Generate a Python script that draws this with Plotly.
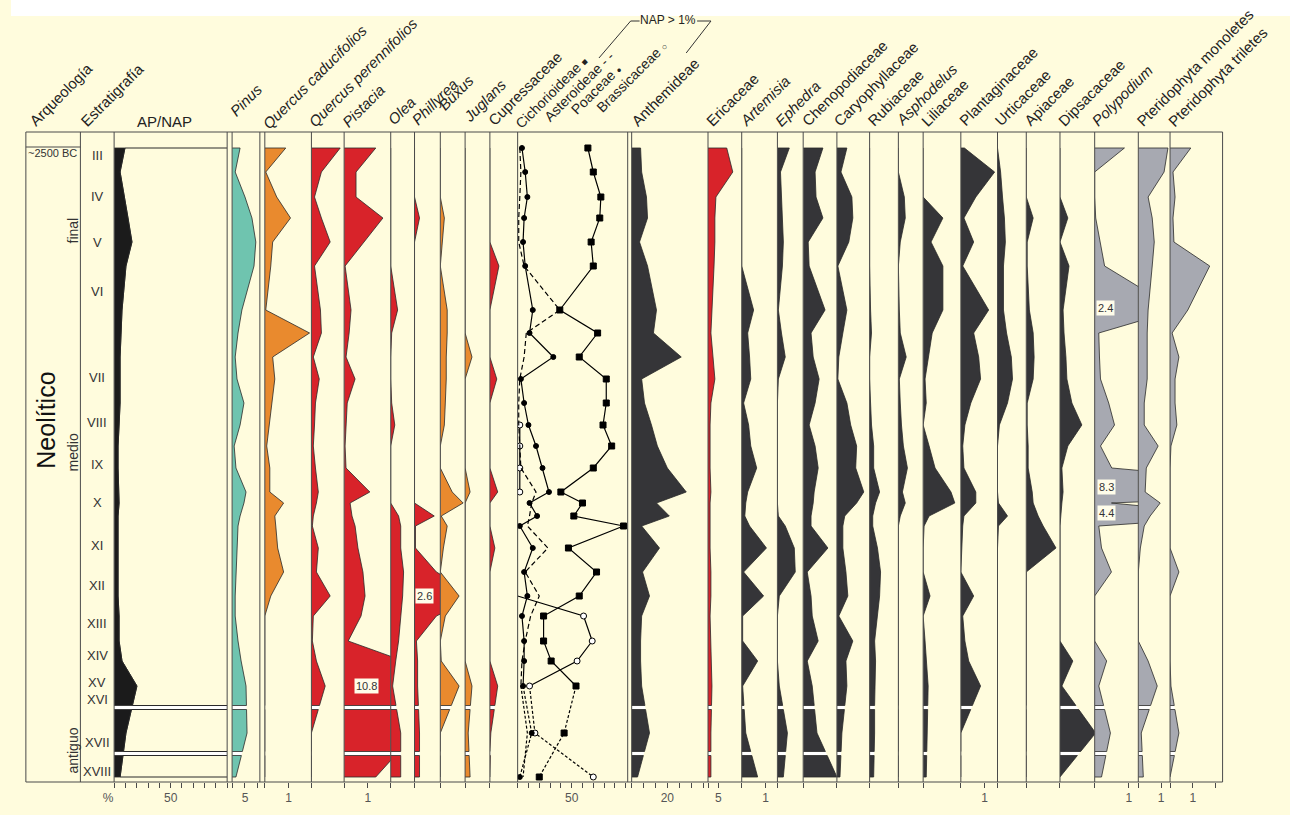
import plotly.graph_objects as go

W, H = 1290, 815
Y_TOP, Y_BOT = 132, 782          # header rule and bottom axis (pixel rows == depth units)

# ---------------- data (sample depths and values) ----------------
depth = [148, 172, 197, 218, 242, 266, 310, 333, 357, 379, 403, 425, 446, 468, 492,
         503, 516, 526, 548, 572, 596, 616, 641, 661, 686, 733, 777]

ap = [9.6, 5.3, 8.8, 12.3, 15.8, 10.5, 7.0, 6.1, 5.3, 5.3, 5.3, 4.4, 3.5, 3.5, 4.4,
      4.4, 3.5, 3.5, 3.5, 3.5, 3.5, 4.4, 4.4, 7.0, 20.2, 10.5, 5.3]
pinus = [3.1, 1.2, 5.0, 7.7, 9.2, 8.5, 3.8, 2.3, 1.2, 1.9, 4.6, 3.1, 0.8, 1.5, 5.4,
         4.6, 3.1, 2.3, 1.9, 1.5, 1.2, 1.2, 2.3, 3.5, 5.4, 5.8, 1.5]
q_caducifolios = [0.88, 0.04, 0.5, 1.08, 0.33, 0.25, 0.04, 1.88, 0.33, 0.42, 0.29, 0.17, 0.08, 0.21, 0.21,
                  0.79, 0.42, 0.46, 0.54, 0.79, 0.25, 0, 0, 0, 0, 0, 0]
q_perennifolios = [1.21, 0.42, 0.13, 0.42, 0.79, 0.13, 0.38, 0.42, 0.08, 0.33, 0.17, 0.13, 0.08, 0.17, 0.29,
                   0.21, 0.08, 0.04, 0.29, 0.21, 0.79, 0.08, 0.04, 0.21, 0.58, 0, 0]
pistacia = [1.33, 0.5, 0.5, 1.63, 0.83, 0.04, 0.29, 0.21, 0.08, 0.46, 0.13, 0.08, 0.04, 0.08, 1.08,
            0.25, 0.33, 0.46, 0.58, 0.79, 0.88, 0.71, 0.17, 2.5, 10.8, 3.0, 1.33]
olea = [0, 0, 0, 0, 0, 0, 0.29, 0.04, 0, 0, 0.04, 0.17, 0, 0, 0,
        0, 0.33, 0.42, 0.42, 0.54, 0.5, 0.42, 0.33, 0.21, 0.08, 0.42, 0.42]
phillyrea = [0, 0, 0, 0.21, 0, 0, 0, 0, 0, 0, 0, 0, 0, 0, 0,
             0, 0.83, 0.04, 0.04, 0.92, 2.6, 0.92, 0.08, 0.13, 0.13, 0.21, 0.21]
buxus = [0, 0, 0, 0.17, 0.08, 0, 0.29, 0.29, 0.25, 0.25, 0.21, 0.17, 0, 0, 0.5,
         0.96, 0.04, 0.29, 0.13, 0, 0.79, 0.21, 0, 0.04, 0.79, 0, 0]
juglans = [0, 0, 0, 0, 0, 0, 0, 0, 0.29, 0, 0, 0, 0, 0, 0.21,
           0, 0, 0, 0, 0, 0, 0, 0, 0, 0.29, 0.13, 0.21]
cupressaceae = [0, 0, 0, 0, 0, 0.38, 0, 0, 0, 0.29, 0, 0, 0, 0, 0.33,
                0, 0, 0, 0.21, 0, 0, 0, 0, 0, 0.33, 0.04, 0]

cichorioideae = [65, 70, 77, 76, 68, 70, 39, 74, 57, 82, 82, 79, 87, 70, 40,
                 60, 52, 98, 47, 73, 57, 24, 24, 31, 54, 43, 20]
asteroideae = [2, 3, 2, 1, 1, 6, 39, 8, 6, 2, 1, 1, 2, 3, 17,
               13, 11, 9, 28, 7, 20, 12, 7, 4, 3, 9, 5]
poaceae = [4, 7, 9, 6, 5, 7, 14, 11, 33, 3, 6, 10, 17, 23, 29,
           11, 18, 2, 14, 6, 9, 4, 6, 6, 5, 13, 2]
brassicaceae = [None, None, None, None, None, None, None, None, None, None, None, 2, 2, 2, 2,
                None, None, None, None, None, 0, 61, 69, 55, 11, 16, 70]

anthemideae = [5, 5.6, 8.3, 8.9, 4.4, 8.9, 13.9, 12.2, 27.8, 5.6, 7.2, 11.1, 14.4, 20, 30.6,
               13.9, 21.1, 5.6, 15.6, 6.1, 10, 5.6, 5, 5, 5.6, 10, 3.3]
ericaceae = [9, 11.9, 3.8, 3.3, 3.3, 2.9, 1.9, 1.4, 2.4, 3.3, 1.4, 1, 1, 1, 1.4,
             1, 1, 1, 1, 1.4, 1.4, 1, 1.4, 1.4, 1.9, 1.4, 1.4]
artemisia = [0, 0, 0, 0, 0, 0, 0.5, 0.25, 0.33, 0.38, 0.08, 0.29, 0.38, 0.63, 0.25,
             0.17, 0.13, 0.33, 1.04, 0.08, 0.92, 0.04, 0.04, 0.67, 0.04, 0.17, 0.67]
ephedra = [0.5, 0.13, 0.17, 0.21, 0.25, 0.21, 0.04, 0.17, 0.33, 0.04, 0, 0, 0, 0, 0,
           0, 0.04, 0.33, 0.71, 0.75, 0.08, 0, 0, 0, 0.08, 0.42, 0.25]
chenopodiaceae = [0.83, 0.5, 0.54, 0.83, 0.21, 0.25, 0.92, 0.33, 0.42, 0.67, 0.5, 0.25, 0.5, 0.63, 0.46,
                  0.42, 0.33, 0.33, 1.04, 0.17, 0.33, 0.38, 0.63, 0.17, 0.38, 0.58, 1.42]
caryophyllaceae = [0.42, 0.17, 0.63, 0.67, 0.5, 0.04, 0.42, 0.25, 0.08, 0.04, 0.42, 0.58, 0.83, 0.79, 1.13,
                   0.83, 0.33, 0.25, 0.25, 0.38, 0.46, 0.08, 0.67, 0.38, 0.42, 0.21, 0.13]
rubiaceae = [0, 0, 0, 0, 0, 0, 0.04, 0.08, 0, 0, 0.04, 0.08, 0.17, 0.17, 0.42,
             0.25, 0.13, 0.13, 0.33, 0.46, 0.42, 0.33, 0.21, 0.25, 0.21, 0.21, 0.17]
asphodelus = [0, 0, 0.25, 0.29, 0.08, 0, 0.04, 0.08, 0.33, 0.04, 0.08, 0.13, 0.21, 0.38, 0.17,
              0.29, 0.08, 0, 0, 0, 0, 0, 0, 0, 0, 0, 0]
liliaceae = [0, 0, 0, 0.83, 0.33, 0.83, 0.83, 0.38, 0.21, 0.08, 0.13, 0, 0.25, 0.5, 1.17,
             1.33, 0.25, 0.04, 0, 0, 0.29, 0, 0.08, 0.13, 0.21, 0.17, 0.13]
plantaginaceae = [0.15, 1.42, 0.63, 0.13, 0.54, 0.08, 1.17, 0.54, 0.75, 0.83, 0.42, 0.17, 0.08, 0.13, 0.63,
                  0.63, 0.13, 0.08, 0.04, 0, 0.54, 0.08, 0.17, 0.33, 0.83, 0, 0]
urticaceae = [0, 0.13, 0.21, 0.29, 0.33, 0.25, 0.25, 0.38, 0.58, 0.63, 0.42, 0.08, 0, 0, 0,
              0.04, 0.42, 0.04, 0, 0, 0, 0, 0, 0, 0, 0, 0]
apiaceae = [0, 0, 0, 0.29, 0.04, 0.04, 0.13, 0.29, 0.33, 0.29, 0.04, 0.04, 0.08, 0.08, 0.25,
            0.29, 0.5, 0.71, 1.25, 0, 0, 0, 0, 0, 0, 0, 0]
dipsacaceae = [0, 0, 0, 0.33, 0, 0.38, 0.13, 0.17, 0.25, 0.29, 0.5, 0.92, 0.33, 0.08, 0.13,
               0.08, 0.04, 0, 0, 0, 0, 0, 0, 0.54, 0.08, 1.5, 0]
polypodium = [0.87, 0, 0, 0.03, 0.17, 0.29, 2.4, 0.12, 0.14, 0.17, 0.41, 0.58, 0.17, 0.5, 8.3,
              0.49, 4.4, 0.12, 0.2, 0.49, 0, 0, 0, 0.35, 0.12, 0.46, 0.2]
pteridophyta_monoletes = [1.3, 1.13, 0.43, 0.61, 0.7, 0.61, 0.43, 0.39, 0.39, 0.39, 0.26, 0.26, 0.87, 0.35, 0.3,
                          0.96, 0.52, 0.26, 0.09, 0, 0, 0, 0, 0.43, 0.83, 0.13, 0.22]
pteridophyta_triletes = [0.91, 0.13, 0.22, 0.13, 0.17, 1.74, 0.78, 0.09, 0.39, 0.22, 0.22, 0.3, 0.04, 0, 0,
                         0, 0, 0, 0, 0.39, 0, 0, 0, 0, 0.04, 0.39, 0]

zone_labels = ["III", "IV", "V", "VI", "VII", "VIII", "IX", "X", "XI", "XII", "XIII",
               "XIV", "XV", "XVI", "XVII", "XVIII"]
zone_depths = [155, 196, 242, 291, 377, 422, 464, 502, 545, 585, 623, 655, 682, 699, 742, 771]
gap_depths = [(705.5, 709.5), (751.5, 755.5)]

# ---------------- styling ----------------
BG = "#FFFCDD"
TEAL = "#6FC4AF"
ORANGE = "#E98A2E"
RED = "#D8232A"
DARK = "#353538"
GREY = "#A7A9B1"
BLACK = "#1B1B1B"
OUT = "#2A2A2A"
RULE = "#4A4A4A"
FONT = "Liberation Sans, Arial, sans-serif"

# column: name, values, left px, right px, px per unit, colour, ticks {value: text}
columns = [
    ("AP", ap, 104, 218, 1.14, BLACK, {v: ("%\u2002\u2002" if v == 0 else "50" if v == 50 else "") for v in range(0, 101, 10)}),
    ("Pinus", pinus, 223, 251, 2.6, TEAL, {0: "", 5: "5", 10: ""}),
    ("Qcad", q_caducifolios, 256, 303, 24, ORANGE, {0: "", 1: "1"}),
    ("Qper", q_perennifolios, 303, 336, 24, RED, {0: ""}),
    ("Pistacia", pistacia, 336, 383, 24, RED, {0: "", 1: "1"}),
    ("Olea", olea, 383, 407, 24, RED, {0: ""}),
    ("Phillyrea", phillyrea, 407, 433, 24, RED, {0: ""}),
    ("Buxus", buxus, 433, 458, 24, ORANGE, {0: ""}),
    ("Juglans", juglans, 458, 483, 24, ORANGE, {0: ""}),
    ("Cupressaceae", cupressaceae, 483, 511, 24, RED, {0: ""}),
    ("NAP", None, 511, 622, 1.09, None, {v: ("50" if v == 50 else "") for v in range(0, 101, 10)}),
    ("Anthemideae", anthemideae, 626, 703, 1.8, DARK, {round(k * 20 / 3, 3): ("20" if k == 3 else "") for k in range(7)}),
    ("Ericaceae", ericaceae, 703, 737, 2.1, RED, {0: "", 5: "5"}),
    ("Artemisia", artemisia, 737, 773, 24, DARK, {0: "", 1: "1"}),
    ("Ephedra", ephedra, 773, 799, 24, DARK, {0: ""}),
    ("Chenopodiaceae", chenopodiaceae, 799, 833, 24, DARK, {0: ""}),
    ("Caryophyllaceae", caryophyllaceae, 833, 866, 24, DARK, {0: ""}),
    ("Rubiaceae", rubiaceae, 866, 895, 24, DARK, {0: ""}),
    ("Asphodelus", asphodelus, 895, 920, 24, DARK, {0: ""}),
    ("Liliaceae", liliaceae, 920, 958, 24, DARK, {0: ""}),
    ("Plantaginaceae", plantaginaceae, 958, 995, 24, DARK, {0: "", 1: "1"}),
    ("Urticaceae", urticaceae, 995, 1024, 24, DARK, {0: ""}),
    ("Apiaceae", apiaceae, 1024, 1058, 24, DARK, {0: ""}),
    ("Dipsacaceae", dipsacaceae, 1058, 1093, 24, DARK, {0: ""}),
    ("Polypodium", polypodium, 1093, 1137, 34.5, GREY, {0: "", 1: "1"}),
    ("PtMono", pteridophyta_monoletes, 1137, 1169, 23, GREY, {0: "", 1: "1"}),
    ("PtTri", pteridophyta_triletes, 1169, 1222, 23, GREY, {0: "", 1: "1", 2: ""}),
]

# header labels: text, first-letter x (px), baseline y (px), font size
header_labels = [
    ("Arqueología", 24, 130, 15), ("Estratigrafía", 76, 130, 15),
    ("<i>Pinus</i>", 227, 120, 15), ("<i>Quercus caducifolios</i>", 260, 133, 15),
    ("<i>Quercus perennifolios</i>", 306, 131, 15), ("<i>Pistacia</i>", 340, 131, 15),
    ("<i>Olea</i>", 386, 129, 15), ("<i>Phillyrea</i>", 410, 129, 15), ("<i>Buxus</i>", 437, 114, 15),
    ("<i>Juglans</i>", 462, 126, 15), ("Cupressaceae", 487, 130, 15),
    ("Cichorioideae <span style='font-size:9px'>■</span>", 515, 132, 14),
    ("Asteroideae - -", 544, 125, 14),
    ("Poaceae <span style='font-size:8px'>●</span>", 571, 118, 14),
    ("Brassicaceae <span style='font-size:9px'>○</span>", 596, 116, 14),
    ("Anthemideae", 631, 130, 15), ("Ericaceae", 707, 130, 15), ("<i>Artemisia</i>", 741, 130, 15),
    ("<i>Ephedra</i>", 776, 130, 15), ("Chenopodiaceae", 803, 130, 15), ("Caryophyllaceae", 836, 130, 15),
    ("Rubiaceae", 870, 130, 15), ("<i>Asphodelus</i>", 898, 130, 15), ("Liliaceae", 924, 130, 15),
    ("Plantaginaceae", 962, 130, 15), ("Urticaceae", 998, 130, 15), ("Apiaceae", 1028, 130, 15),
    ("Dipsacaceae", 1062, 130, 15), ("<i>Polypodium</i>", 1096, 130, 15),
    ("Pteridophyta monoletes", 1141, 130, 15), ("Pteridophyta triletes", 1173, 130, 15),
]

# clipped-value labels: (column, value position, depth, text)
value_labels = [("Pistacia", 0.92, 686, "10.8"), ("Phillyrea", 0.42, 596, "2.6"),
                ("Polypodium", 0.32, 308, "2.4"), ("Polypodium", 0.35, 487, "8.3"),
                ("Polypodium", 0.35, 513, "4.4")]


def px_x(px):
    return px / W


def px_y(py):
    return (Y_BOT - py) / (Y_BOT - Y_TOP)


def interp(vals, d):
    for k in range(len(depth) - 1):
        if depth[k] <= d <= depth[k + 1]:
            t = (d - depth[k]) / (depth[k + 1] - depth[k])
            return vals[k] + t * (vals[k + 1] - vals[k])
    return vals[-1]


def segments(vals):
    """Split a curve into the pieces separated by the hiatus gaps."""
    cuts = [depth[0]] + [g for pair in gap_depths for g in pair] + [depth[-1]]
    out = []
    for a, b in zip(cuts[0::2], cuts[1::2]):
        ys = [d for d in depth if a <= d <= b]
        xs = [v for d, v in zip(depth, vals) if a <= d <= b]
        if a not in depth:
            ys, xs = [a] + ys, [interp(vals, a)] + xs
        if b not in depth:
            ys, xs = ys + [b], xs + [interp(vals, b)]
        out.append((xs, ys))
    return out


def polygon(segs, base):
    X, Y = [], []
    for xs, ys in segs:
        X += [base] + xs + [base, None]
        Y += [ys[0]] + ys + [ys[-1], None]
    return X, Y


fig = go.Figure()
layout_axes = {}
shapes = []
annotations = []
axis_of = {}

for i, (name, vals, x0, x1, ppu, color, ticks) in enumerate(columns, start=1):
    xa = "x" if i == 1 else f"x{i}"
    axis_of[name] = xa
    layout_axes["xaxis" if i == 1 else f"xaxis{i}"] = dict(
        domain=[px_x(x0), px_x(x1)], range=[0, (x1 - x0) / ppu], anchor="y",
        showgrid=False, zeroline=False, showline=False, fixedrange=True,
        ticks="outside", ticklen=5, tickwidth=1, tickcolor=RULE,
        tickvals=list(ticks.keys()), ticktext=list(ticks.values()),
        tickfont=dict(size=12, color="#555555", family=FONT))
    shapes.append(dict(type="line", xref=f"{xa} domain", x0=0, x1=0, yref="paper", y0=0, y1=1,
                       line=dict(color=RULE, width=1), layer="above"))
    if vals is None:
        continue
    segs = segments(vals)
    # white hiatus strips under the filled part
    gx, gy = [], []
    for g0, g1 in gap_depths:
        w0 = 100 if name == "AP" else interp(vals, g0)
        w1 = 100 if name == "AP" else interp(vals, g1)
        gx += [0, w0, w1, 0, None]
        gy += [g0, g0, g1, g1, None]
    fig.add_trace(go.Scatter(x=gx, y=gy, xaxis=xa, yaxis="y", mode="lines", fill="toself",
                             fillcolor="white", line=dict(width=0), hoverinfo="skip"))
    if name == "AP":
        bx, by = polygon(segs, 100)
        fig.add_trace(go.Scatter(x=bx, y=by, xaxis=xa, yaxis="y", mode="lines", fill="toself",
                                 fillcolor=BG, line=dict(color=OUT, width=1), hoverinfo="skip"))
    px_, py_ = polygon(segs, 0)
    fig.add_trace(go.Scatter(x=px_, y=py_, xaxis=xa, yaxis="y", mode="lines", fill="toself",
                             fillcolor=color, line=dict(color=OUT, width=0.8), hoverinfo="skip"))

# right edges of double-ruled columns and of the frame
for name in ["AP", "Pinus", "NAP", "PtTri"]:
    shapes.append(dict(type="line", xref=f"{axis_of[name]} domain", x0=1, x1=1, yref="paper", y0=0, y1=1,
                       line=dict(color=RULE, width=1), layer="above"))
for xpx in (15, 70):
    shapes.append(dict(type="line", xref="paper", x0=px_x(xpx), x1=px_x(xpx), yref="paper", y0=0, y1=1,
                       line=dict(color=RULE, width=1)))
for yy in (0, 1):
    shapes.append(dict(type="line", xref="paper", x0=px_x(15), x1=px_x(1222), yref="paper", y0=yy, y1=yy,
                       line=dict(color=RULE, width=1)))
shapes.append(dict(type="line", xref="paper", x0=px_x(15), x1=px_x(70), yref="y", y0=147, y1=147,
                   line=dict(color=RULE, width=1)))
shapes.append(dict(type="rect", xref="paper", x0=0, x1=1, yref="paper", y0=px_y(16), y1=px_y(0),
                   fillcolor="white", line=dict(width=0), layer="below"))
# NAP > 1% bracket
for (ax0, ay0, ax1, ay1) in [(593, 58, 625, 21), (625, 21, 634, 21), (692, 21, 706, 21), (706, 21, 681, 53)]:
    shapes.append(dict(type="line", xref="paper", yref="paper", x0=px_x(ax0), y0=px_y(ay0),
                       x1=px_x(ax1), y1=px_y(ay1), line=dict(color="#333333", width=1)))

# ---------------- NAP > 1% curves ----------------
nap = axis_of["NAP"]
split = depth.index(686)
series = [
    (brassicaceae, "circle", 6, "white", None),
    (asteroideae, None, 0, None, "5px,3px"),
    (poaceae, "circle", 5, "black", None),
    (cichorioideae, "square", 6, "black", None),
]
for vals, sym, size, mcol, dash in series:
    upper = dict(x=vals[:split + 1], y=depth[:split + 1])
    lower = dict(x=vals[split:], y=depth[split:])
    for part, dd in ((upper, dash), (lower, "3px,2px")):
        fig.add_trace(go.Scatter(**part, xaxis=nap, yaxis="y", mode="lines",
                                 line=dict(color="black", width=1.2, dash=dd),
                                 connectgaps=False, hoverinfo="skip"))
    if sym:
        mx = [v for v in vals if v]
        my = [d for v, d in zip(vals, depth) if v]
        fig.add_trace(go.Scatter(x=mx, y=my, xaxis=nap, yaxis="y", mode="markers",
                                 marker=dict(symbol=sym, size=size, color=mcol,
                                             line=dict(color="black", width=1)),
                                 hoverinfo="skip"))


# ---------------- annotations ----------------
def note(text, x, y, xref="paper", yref="paper", size=14, color="#222222", angle=0,
         xanchor="center", yanchor="middle", **kw):
    annotations.append(dict(text=text, x=x, y=y, xref=xref, yref=yref, showarrow=False,
                            textangle=angle, xanchor=xanchor, yanchor=yanchor,
                            font=dict(family=FONT, size=size, color=color), **kw))


for text, xs, yb, fs in header_labels:
    note(text, px_x(xs - 12), px_y(yb + 2), size=fs, angle=-45, xanchor="left", yanchor="bottom")
note("AP/NAP", px_x(155), px_y(121), size=15)
note("NAP &gt; 1%", px_x(663), px_y(20), size=12)
note("~2500 BC", px_x(42), 153, yref="y", size=11, color="#333333")
for lab, d in zip(zone_labels, zone_depths):
    note(lab, px_x(87), d, yref="y", size=13, color="#333333")
for lab, d in [("final", 230), ("medio", 452), ("antiguo", 750)]:
    note(lab, px_x(63), d, yref="y", size=14, color="#333333", angle=-90)
note("Neolítico", px_x(35), 420, yref="y", size=25, color="#111111", angle=-90)
for name, xv, d, text in value_labels:
    note(text, xv, d, xref=axis_of[name], yref="y", size=11, color="#333333",
         bgcolor="#FFFDEA", borderpad=1)

fig.update_layout(
    width=W, height=H, margin=dict(l=0, r=0, t=Y_TOP, b=H - Y_BOT, pad=0),
    paper_bgcolor=BG, plot_bgcolor=BG, showlegend=False,
    yaxis=dict(range=[Y_BOT, Y_TOP], domain=[0, 1], visible=False, fixedrange=True),
    shapes=shapes, annotations=annotations, font=dict(family=FONT),
    **layout_axes)

fig.write_html("out.html", include_plotlyjs=True, full_html=True,
               config={"displayModeBar": False},
               post_script="document.body.style.margin='0px';document.body.style.overflow='hidden';")
